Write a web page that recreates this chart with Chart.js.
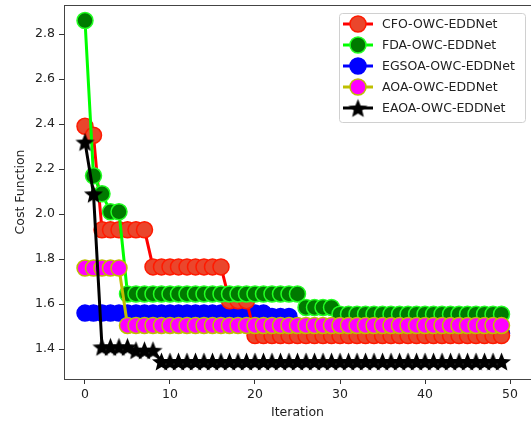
<!DOCTYPE html>
<html lang="en">
<head>
    <meta charset="UTF-8">
    <title>Cost Function vs Iteration</title>
    <script src="https://cdn.jsdelivr.net/npm/chart.js@4"></script>
    <style>
        html, body {
            margin: 0;
            padding: 0;
            overflow: hidden;
            background: #fff;
        }

        canvas {
            display: block;
        }
    </style>
</head>
<body>
    <canvas id="costChart" width="531" height="423"></canvas>

    <script>
        // iteration index 0..49
        const iterations = Array.from({ length: 50 }, (_, i) => i);
        const xTicks = [0, 10, 20, 30, 40, 50];
        const yTicks = [1.4, 1.6, 1.8, 2.0, 2.2, 2.4, 2.6, 2.8];
        const seriesNames = ['CFO-OWC-EDDNet', 'FDA-OWC-EDDNet', 'EGSOA-OWC-EDDNet', 'AOA-OWC-EDDNet', 'EAOA-OWC-EDDNet'];

        const cfoCost = [2.39, 2.35, 1.93, 1.93, 1.93, 1.93, 1.93, 1.93, 1.765, 1.765,
            1.765, 1.765, 1.765, 1.765, 1.765, 1.765, 1.765, 1.615, 1.615, 1.615,
            1.46, 1.46, 1.46, 1.46, 1.46, 1.46, 1.46, 1.46, 1.46, 1.46,
            1.46, 1.46, 1.46, 1.46, 1.46, 1.46, 1.46, 1.46, 1.46, 1.46,
            1.46, 1.46, 1.46, 1.46, 1.46, 1.46, 1.46, 1.46, 1.46, 1.46];
        const fdaCost = [2.86, 2.17, 2.09, 2.01, 2.01, 1.645, 1.645, 1.645, 1.645, 1.645,
            1.645, 1.645, 1.645, 1.645, 1.645, 1.645, 1.645, 1.645, 1.645, 1.645,
            1.645, 1.645, 1.645, 1.645, 1.645, 1.645, 1.585, 1.585, 1.585, 1.585,
            1.555, 1.555, 1.555, 1.555, 1.555, 1.555, 1.555, 1.555, 1.555, 1.555,
            1.555, 1.555, 1.555, 1.555, 1.555, 1.555, 1.555, 1.555, 1.555, 1.555];
        const egsoaCost = [1.56, 1.56, 1.56, 1.56, 1.56, 1.56, 1.56, 1.56, 1.56, 1.56,
            1.56, 1.56, 1.56, 1.56, 1.56, 1.56, 1.56, 1.56, 1.56, 1.56,
            1.56, 1.56, 1.545, 1.545, 1.545, 1.47, 1.47, 1.47, 1.47, 1.47,
            1.47, 1.47, 1.47, 1.47, 1.47, 1.47, 1.47, 1.47, 1.47, 1.47,
            1.47, 1.47, 1.47, 1.47, 1.47, 1.47, 1.47, 1.47, 1.47, 1.47];
        const aoaCost = [1.76, 1.76, 1.76, 1.76, 1.76, 1.505, 1.505, 1.505, 1.505, 1.505,
            1.505, 1.505, 1.505, 1.505, 1.505, 1.505, 1.505, 1.505, 1.505, 1.505,
            1.505, 1.505, 1.505, 1.505, 1.505, 1.505, 1.505, 1.505, 1.505, 1.505,
            1.505, 1.505, 1.505, 1.505, 1.505, 1.505, 1.505, 1.505, 1.505, 1.505,
            1.505, 1.505, 1.505, 1.505, 1.505, 1.505, 1.505, 1.505, 1.505, 1.505];
        const eaoaCost = [2.32, 2.09, 1.41, 1.41, 1.41, 1.41, 1.395, 1.395, 1.395, 1.345,
            1.345, 1.345, 1.345, 1.345, 1.345, 1.345, 1.345, 1.345, 1.345, 1.345,
            1.345, 1.345, 1.345, 1.345, 1.345, 1.345, 1.345, 1.345, 1.345, 1.345,
            1.345, 1.345, 1.345, 1.345, 1.345, 1.345, 1.345, 1.345, 1.345, 1.345,
            1.345, 1.345, 1.345, 1.345, 1.345, 1.345, 1.345, 1.345, 1.345, 1.345];

        const font = { family: 'DejaVu Sans', size: 12.5 };
        const textColor = '#222';

        // filled five point star, like matplotlib's '*' marker
        function makeStar(size) {
            const c = document.createElement('canvas');
            c.width = size;
            c.height = size;
            const g = c.getContext('2d');
            const outer = size / 2 - 0.5, inner = outer * 0.44;
            g.beginPath();
            for (let k = 0; k < 10; k++) {
                const r = k % 2 === 0 ? outer : inner;
                const a = -Math.PI / 2 + k * Math.PI / 5;
                g.lineTo(size / 2 + r * Math.cos(a), size / 2 + 1 + r * Math.sin(a));
            }
            g.closePath();
            g.fillStyle = '#000';
            g.fill();
            return c;
        }
        const starMarker = makeStar(21);

        const toPoints = values => values.map((v, i) => ({ x: iterations[i], y: v }));

        // top spine + boxed legend drawn like matplotlib
        const frameAndLegend = {
            id: 'frameAndLegend',
            afterDatasetsDraw(chart) {
                const { ctx, chartArea } = chart;
                ctx.save();
                ctx.strokeStyle = '#444';
                ctx.lineWidth = 1;
                ctx.beginPath();
                ctx.moveTo(chartArea.left, chartArea.top + 0.5);
                ctx.lineTo(chartArea.right, chartArea.top + 0.5);
                ctx.stroke();

                const bx = chartArea.right - 192, by = chartArea.top + 8;
                const bw = 186, bh = 109, rowH = 21;
                ctx.beginPath();
                ctx.roundRect(bx + 0.5, by + 0.5, bw, bh, 3);
                ctx.fillStyle = 'rgba(255,255,255,0.8)';
                ctx.fill();
                ctx.strokeStyle = '#d0d0d0';
                ctx.stroke();

                chart.data.datasets.forEach((ds, i) => {
                    const y = by + 11 + i * rowH;
                    const mx = bx + 19;
                    ctx.strokeStyle = ds.borderColor;
                    ctx.lineWidth = ds.borderWidth;
                    ctx.beginPath();
                    ctx.moveTo(bx + 4, y);
                    ctx.lineTo(bx + 34, y);
                    ctx.stroke();
                    if (ds.pointStyle === 'circle') {
                        ctx.beginPath();
                        ctx.arc(mx, y, ds.pointRadius, 0, Math.PI * 2);
                        ctx.fillStyle = ds.pointBackgroundColor;
                        ctx.fill();
                        ctx.lineWidth = ds.pointBorderWidth;
                        ctx.strokeStyle = ds.pointBorderColor;
                        ctx.stroke();
                    } else {
                        const img = ds.pointStyle;
                        ctx.drawImage(img, mx - img.width / 2, y - img.height / 2);
                    }
                    ctx.fillStyle = textColor;
                    ctx.font = font.size + 'px "' + font.family + '"';
                    ctx.textBaseline = 'middle';
                    ctx.textAlign = 'left';
                    ctx.fillText(ds.label, bx + 43, y + 0.5);
                });
                ctx.restore();
            }
        };

        const circleSeries = (label, values, line, face, edge, order) => ({
            label: label,
            data: toPoints(values),
            borderColor: line,
            backgroundColor: face,
            borderWidth: 3,
            pointStyle: 'circle',
            pointRadius: 8,
            pointBackgroundColor: face,
            pointBorderColor: edge,
            pointBorderWidth: 1.5,
            tension: 0,
            order: order
        });

        const ctx = document.getElementById('costChart').getContext('2d');
        new Chart(ctx, {
            type: 'line',
            data: {
                datasets: [
                    circleSeries(seriesNames[0], cfoCost, '#ff0000', 'rgb(234,70,44)', '#ff1a00', 5),
                    circleSeries(seriesNames[1], fdaCost, '#00ff00', '#007a00', '#22ff22', 4),
                    circleSeries(seriesNames[2], egsoaCost, '#0000ff', '#0000ff', '#0000ff', 6),
                    circleSeries(seriesNames[3], aoaCost, '#bfbf00', '#ff00ff', '#bfbf00', 2),
                    {
                        label: seriesNames[4],
                        data: toPoints(eaoaCost),
                        borderColor: '#000',
                        backgroundColor: '#000',
                        borderWidth: 3,
                        pointStyle: starMarker,
                        tension: 0,
                        order: 1
                    }
                ]
            },
            options: {
                responsive: false,
                animation: false,
                devicePixelRatio: 1,
                layout: { autoPadding: false, padding: { top: 5, right: 0, left: 0, bottom: 0 } },
                plugins: {
                    legend: { display: false },
                    tooltip: { enabled: false }
                },
                scales: {
                    x: {
                        type: 'linear',
                        min: -2.47,
                        max: 52.47,
                        afterFit: s => { s.height = 44; s.paddingLeft = 0; s.paddingRight = 0; },
                        afterBuildTicks: s => { s.ticks = xTicks.map(v => ({ value: v })); },
                        grid: { drawOnChartArea: false, drawTicks: true, tickLength: 5, color: '#333' },
                        border: { display: true, color: '#444', width: 1 },
                        ticks: { padding: 3, color: textColor, font: font, maxRotation: 0 },
                        title: { display: true, text: 'Iteration', color: textColor, font: font, padding: { top: 0, bottom: 2.5 } }
                    },
                    y: {
                        min: 1.267,
                        max: 2.929,
                        afterFit: s => { s.width = 64; s.paddingTop = 0; s.paddingBottom = 0; },
                        afterBuildTicks: s => { s.ticks = yTicks.map(v => ({ value: v })); },
                        grid: { drawOnChartArea: false, drawTicks: true, tickLength: 5, color: '#333' },
                        border: { display: true, color: '#444', width: 1 },
                        ticks: { padding: 4, color: textColor, font: font, callback: v => v.toFixed(1) },
                        title: { display: true, text: 'Cost Function', color: textColor, font: font, padding: { top: 13.5, bottom: 0 } }
                    }
                }
            },
            plugins: [frameAndLegend]
        });
    </script>
</body>
</html>
